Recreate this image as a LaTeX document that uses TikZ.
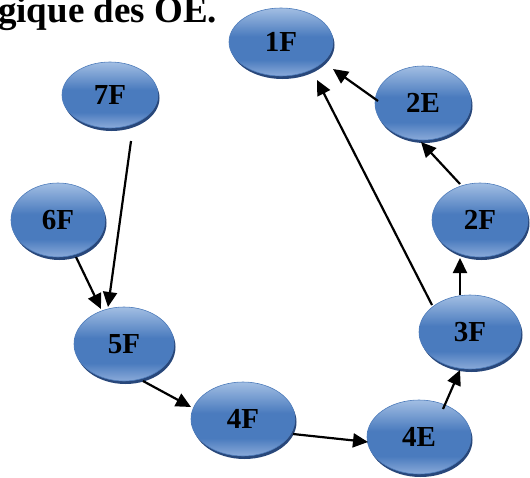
\documentclass[tikz,border=0pt]{standalone}
\usepackage{fontspec}
\setmainfont{Liberation Serif}
\usetikzlibrary{shapes.geometric,arrows.meta,shadows}
\definecolor{ovtop}{HTML}{A2BEE3}
\definecolor{ovmid}{HTML}{4A7BBE}
\definecolor{ovbot}{HTML}{8AAAD9}
\definecolor{ovrim}{HTML}{4E7CBB}
\definecolor{ovshade}{HTML}{28477A}
% light at the top, a broad darker band across the middle, lighter again below
\pgfdeclareverticalshading{ovalshade}{100bp}{color(0bp)=(ovbot); color(25bp)=(ovbot);
  color(37bp)=(ovmid); color(54bp)=(ovmid); color(75bp)=(ovtop); color(100bp)=(ovtop)}
\tikzset{
  oval/.style={ellipse, inner sep=0pt, minimum width=102pt, minimum height=74pt,
    shading=ovalshade, shading angle=0,
    draw=ovrim, line width=0.6pt,
    copy shadow={shadow xshift=1.5pt, shadow yshift=-3pt, fill=ovshade, draw=none},
    font=\fontsize{29}{32}\selectfont\bfseries},
  arr/.style={line width=2.2pt, -{Triangle[length=15pt,width=14pt]}}
}
\begin{document}
\begin{tikzpicture}[x=1pt,y=-1pt]
\useasboundingbox (0,0) rectangle (530,477);

% heading, partly cut off at the top edge
\node[anchor=base west, inner sep=0pt, font=\fontsize{37}{41}\selectfont\bfseries] (title) at (-2,22) {gique des OE.};

% operations
\node[oval, minimum width=104pt, minimum height=68pt] (n1F) at (281,42) {1F};
\node[oval, minimum width=96pt] (n2E) at (423,103) {2E};
\node[oval, minimum width=96pt, minimum height=66pt] (n7F) at (110,95) {7F};
\node[oval, minimum width=94pt] (n6F) at (58,220) {6F};
\node[oval, minimum width=96pt] (n2F) at (480,220) {2F};
\node[oval] (n3F) at (470,332) {3F};
\node[oval, minimum width=100pt] (n5F) at (124,344) {5F};
\node[oval, minimum width=104pt] (n4F) at (243,419) {4F};
\node[oval, minimum width=104pt] (n4E) at (419,437) {4E};

% precedence links
\draw[arr] ([shift={(21,46)}]n7F.center) -- ([shift={(-16,-37)}]n5F.center);
\draw[arr] ([shift={(18,37)}]n6F.center) -- ([shift={(-23,-35)}]n5F.center);
\draw[arr] ([shift={(19,37)}]n5F.center) -- ([shift={(-52,-12)}]n4F.center);
\draw[arr] ([shift={(50,15)}]n4F.center) -- ([shift={(-51,5)}]n4E.center);
\draw[arr] ([shift={(24,-28)}]n4E.center) -- ([shift={(-10,38)}]n3F.center);
\draw[arr] ([shift={(-10,-37)}]n3F.center) -- ([shift={(-20,38)}]n2F.center);
\draw[arr] ([shift={(-20,-36)}]n2F.center) -- ([shift={(-2,39)}]n2E.center);
\draw[arr] ([shift={(-45,-2)}]n2E.center) -- ([shift={(52,27)}]n1F.center);
\draw[arr] ([shift={(-38,-27)}]n3F.center) -- ([shift={(36,38)}]n1F.center);
\end{tikzpicture}
\end{document}
